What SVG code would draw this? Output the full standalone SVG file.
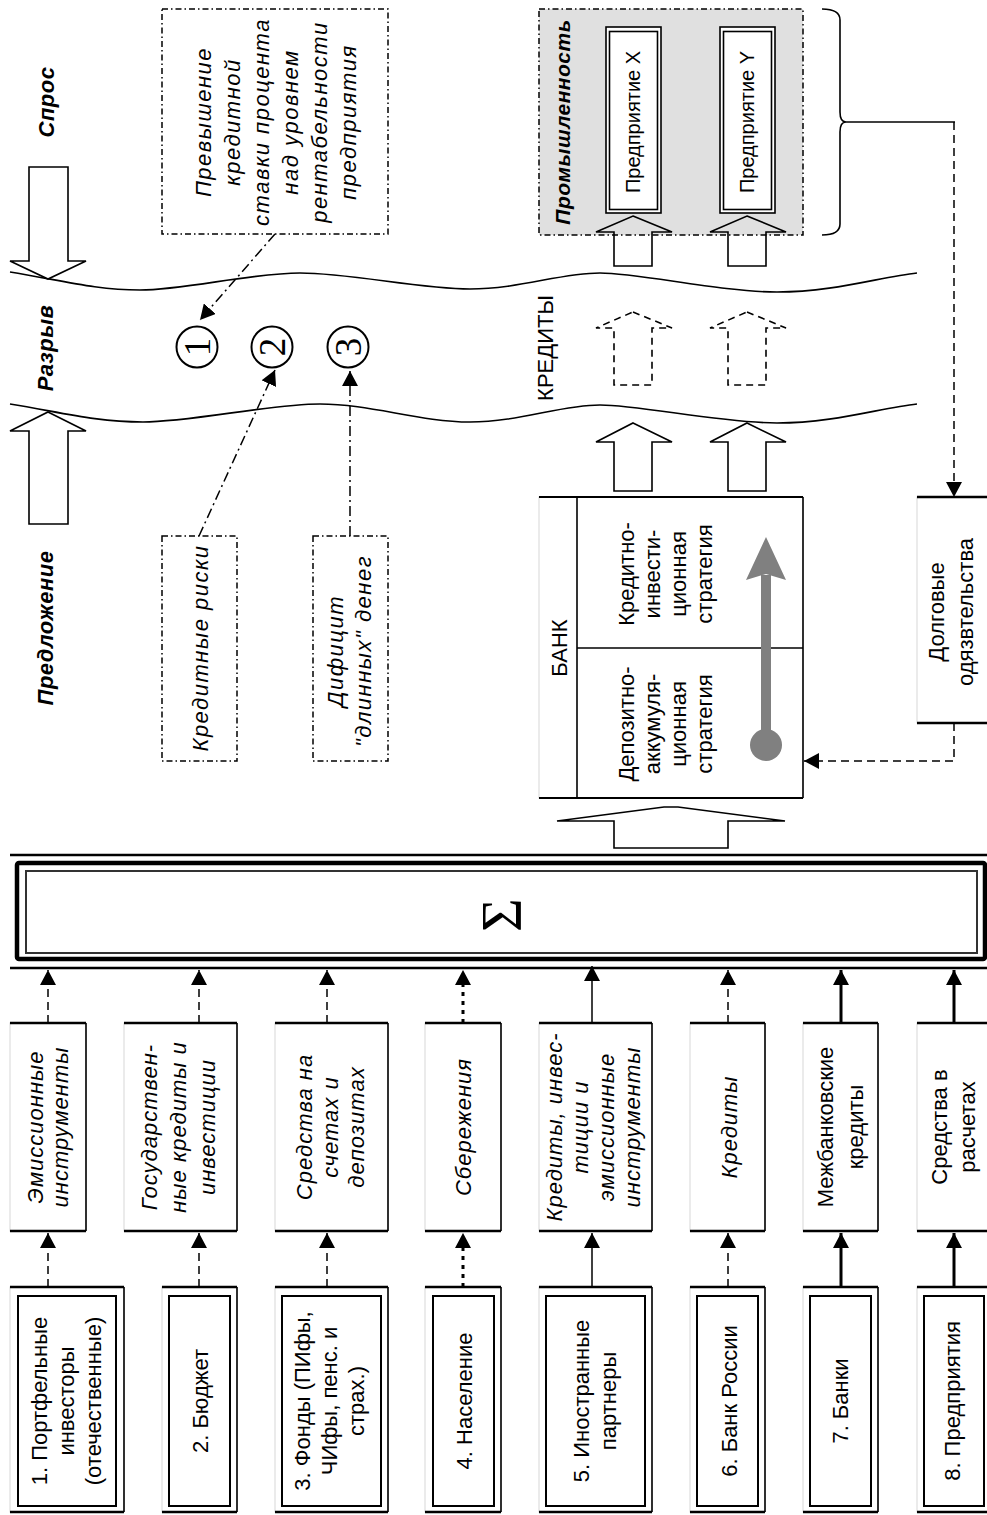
<svg xmlns="http://www.w3.org/2000/svg" width="987" height="1515" viewBox="0 0 987 1515">
<defs>
<style>
.t{font-family:"Liberation Sans",Arial,sans-serif;font-size:22px;fill:#000}
.i{font-style:italic;letter-spacing:1px}
.ci{font-style:italic;letter-spacing:1.5px}
.bi{font-style:italic;font-weight:bold;letter-spacing:0.5px}
.num{font-family:"Liberation Serif","Times New Roman",serif;font-size:37px;fill:#000}
.hol{fill:#fff;stroke:#000;stroke-width:1.6}
.holn{fill:none;stroke:#000;stroke-width:1.6}
.hold{fill:none;stroke:#000;stroke-width:1.6;stroke-dasharray:7 5}
.frame{fill:#fff;stroke:#d8d8d8;stroke-width:1}
.bar{stroke:#000;stroke-width:2.6}
.side{stroke:#000;stroke-width:1.6}
.inner{fill:none;stroke:#000;stroke-width:2}
.callout{fill:#fff;stroke:#000;stroke-width:1.5;stroke-dasharray:6 3 1.5 3}
.dash{fill:none;stroke:#000;stroke-width:1.5;stroke-dasharray:8 5}
.dot{fill:none;stroke:#000;stroke-width:3;stroke-dasharray:4 5}
.thin{fill:none;stroke:#000;stroke-width:1.5}
.thick{fill:none;stroke:#000;stroke-width:3}
.dd{fill:none;stroke:#000;stroke-width:1.5;stroke-dasharray:10 4 2 4}
.wave{fill:none;stroke:#000;stroke-width:1.6}
</style>
<marker id="ah" viewBox="0 0 15 16" refX="15" refY="8" markerWidth="15" markerHeight="16" orient="auto" markerUnits="userSpaceOnUse">
<path d="M0,0 L15,8 L0,16 Z" fill="#000" stroke="none"/>
</marker>
</defs>

<!-- Gap waves -->
<g id="waves">
<path class="wave" d="M10,272 C60,280 95,290 140,290 S250,273 300,273 S420,289 470,289 S560,273 600,273 S720,292 777,292 S880,277 917,273"/>
<path class="wave" d="M10,404 C60,412 95,422 143,422 S270,404 320,404 S420,422 470,422 S560,405 600,405 S720,423 777,423 S880,408 917,404"/>
</g>

<!-- Labels Спрос / Разрыв / Предложение -->
<g id="spros">
<polygon class="hol" points="29,167 68,167 68,261 86,261 48,279 10,261 29,261"/>
<text class="t bi" transform="translate(46,102) rotate(-90)" text-anchor="middle" y="8">Спрос</text>
</g>
<g id="razryv">
<text class="t bi" transform="translate(45,348) rotate(-90)" text-anchor="middle" y="8">Разрыв</text>
</g>
<g id="predlozhenie">
<polygon class="hol" points="48,412 86,431 68,431 68,524 29,524 29,431 10,431"/>
<text class="t bi" transform="translate(45,628) rotate(-90)" text-anchor="middle" y="8">Предложение</text>
</g>

<!-- Callouts -->
<g id="callout1">
<rect class="callout" x="162" y="9" width="226" height="225"/>
<text class="t ci" transform="translate(275,122) rotate(-90)" text-anchor="middle">
<tspan x="0" y="-64.5">Превышение</tspan><tspan x="0" dy="29">кредитной</tspan><tspan x="0" dy="29">ставки процента</tspan><tspan x="0" dy="29">над уровнем</tspan><tspan x="0" dy="29">рентабельности</tspan><tspan x="0" dy="29">предприятия</tspan>
</text>
</g>
<g id="callout2">
<rect class="callout" x="162" y="536" width="75" height="225"/>
<text class="t ci" transform="translate(200,648) rotate(-90)" text-anchor="middle" y="8">Кредитные риски</text>
</g>
<g id="callout3">
<rect class="callout" x="313" y="536" width="75" height="225"/>
<text class="t ci" transform="translate(349,651) rotate(-90)" text-anchor="middle"><tspan x="0" y="-6">Дифицит</tspan><tspan x="0" dy="28">"длинных" денег</tspan></text>
</g>

<!-- Circled numbers -->
<g id="n1"><circle cx="197" cy="347" r="20.5" fill="#fff" stroke="#000" stroke-width="2"/><text class="num" transform="translate(197,347) rotate(-90)" text-anchor="middle" y="12.5">1</text></g>
<g id="n2"><circle cx="272" cy="347" r="20.5" fill="#fff" stroke="#000" stroke-width="2"/><text class="num" transform="translate(272,347) rotate(-90)" text-anchor="middle" y="12.5">2</text></g>
<g id="n3"><circle cx="348" cy="347" r="20.5" fill="#fff" stroke="#000" stroke-width="2"/><text class="num" transform="translate(348,347) rotate(-90)" text-anchor="middle" y="12.5">3</text></g>

<!-- Industry -->
<g id="industry">
<rect x="539" y="9" width="264" height="226" fill="#e0e0e0" stroke="#000" stroke-width="1.5" stroke-dasharray="6 3 1.5 3"/>
<text class="t bi" style="font-size:21px" transform="translate(562,122) rotate(-90)" text-anchor="middle" y="8">Промышленность</text>
</g>
<g id="enterpriseX">
<rect x="606" y="27" width="55" height="186" fill="#fff" stroke="#000" stroke-width="1.6"/>
<rect x="609.5" y="31.5" width="48" height="178" fill="none" stroke="#000" stroke-width="1.6"/>
<text class="t" style="font-size:20px" transform="translate(633,122) rotate(-90)" text-anchor="middle" y="7">Предприятие X</text>
</g>
<g id="enterpriseY">
<rect x="720" y="27" width="55" height="186" fill="#fff" stroke="#000" stroke-width="1.6"/>
<rect x="723.5" y="31.5" width="48" height="178" fill="none" stroke="#000" stroke-width="1.6"/>
<text class="t" style="font-size:20px" transform="translate(747,122) rotate(-90)" text-anchor="middle" y="7">Предприятие Y</text>
</g>

<!-- Credit arrows -->
<g id="credit-arrows">
<polygon class="holn" points="633,216 672,232 652,232 652,266 614,266 614,232 596,232"/>
<polygon class="holn" points="747,216 786,232 766,232 766,266 728,266 728,232 710,232"/>
<polygon class="hold" points="633,312 672,328 652,328 652,385 614,385 614,328 596,328"/>
<polygon class="hold" points="747,312 786,328 766,328 766,385 728,385 728,328 710,328"/>
<polygon class="hol" points="633,423 672,442 652,442 652,491 614,491 614,442 596,442"/>
<polygon class="hol" points="747,423 786,442 766,442 766,491 728,491 728,442 710,442"/>
<polygon class="hol" points="614,848 614,821 557,821 664,807 678,807 785,821 728,821 728,848"/>
<text class="t" transform="translate(545,348) rotate(-90)" text-anchor="middle" y="8">КРЕДИТЫ</text>
</g>

<!-- Bank -->
<g id="bank">
<rect class="frame" x="539" y="497" width="264" height="301"/>
<line class="bar" x1="539" y1="497" x2="803" y2="497" style="stroke-width:2"/>
<line class="bar" x1="539" y1="798" x2="803" y2="798" style="stroke-width:2"/>
<line class="side" x1="803" y1="497" x2="803" y2="798"/>
<line class="side" x1="577" y1="497" x2="577" y2="798"/>
<line class="side" x1="577" y1="648" x2="803" y2="648"/>
<text class="t" transform="translate(559,648) rotate(-90)" text-anchor="middle" y="8">БАНК</text>
<text class="t" transform="translate(665,574) rotate(-90)" text-anchor="middle"><tspan x="0" y="-31">Кредитно-</tspan><tspan x="0" dy="26">инвести-</tspan><tspan x="0" dy="26">ционная</tspan><tspan x="0" dy="26">стратегия</tspan></text>
<text class="t" transform="translate(665,724) rotate(-90)" text-anchor="middle"><tspan x="0" y="-31">Депозитно-</tspan><tspan x="0" dy="26">аккумуля-</tspan><tspan x="0" dy="26">ционная</tspan><tspan x="0" dy="26">стратегия</tspan></text>
<line x1="766" y1="745" x2="766" y2="575" stroke="#808080" stroke-width="10"/>
<polygon points="766,537 786,580 766,574 746,580" fill="#808080"/>
<circle cx="766" cy="745" r="16" fill="#808080"/>
</g>

<!-- Debt -->
<g id="debt">
<rect class="frame" x="917" y="497" width="75" height="226"/>
<line class="bar" x1="917" y1="497" x2="987" y2="497"/>
<line class="bar" x1="917" y1="723" x2="987" y2="723"/>
<text class="t" transform="translate(950,612) rotate(-90)" text-anchor="middle"><tspan x="0" y="-6.5">Долговые</tspan><tspan x="0" dy="29">одязвтельства</tspan></text>
</g>

<!-- Sigma -->
<g id="sigma">
<line class="bar" x1="10" y1="855" x2="987" y2="855"/>
<line class="bar" x1="10" y1="968" x2="987" y2="968"/>
<rect x="17" y="863" width="968" height="96" rx="2" fill="#fff" stroke="#000" stroke-width="4.5"/>
<rect x="26" y="871" width="951" height="82" fill="none" stroke="#333" stroke-width="2"/>
<text transform="translate(521,915) rotate(-90)" text-anchor="middle" style="font-family:'Liberation Serif','Times New Roman',serif;font-size:58px">Σ</text>
</g>

<!-- Middle row -->
<g id="mA">
<rect class="frame" x="10" y="1023" width="76" height="208"/>
<line class="bar" x1="10" y1="1023" x2="86" y2="1023"/><line class="bar" x1="10" y1="1231" x2="86" y2="1231"/><line class="side" x1="86" y1="1023" x2="86" y2="1231"/>
<text class="t i" transform="translate(47,1127) rotate(-90)" text-anchor="middle"><tspan x="0" y="-4.5">Эмиссионные</tspan><tspan x="0" dy="25">инструменты</tspan></text>
</g>
<g id="mB">
<rect class="frame" x="124" y="1023" width="113" height="208"/>
<line class="bar" x1="124" y1="1023" x2="237" y2="1023"/><line class="bar" x1="124" y1="1231" x2="237" y2="1231"/><line class="side" x1="237" y1="1023" x2="237" y2="1231"/>
<text class="t i" transform="translate(178,1127) rotate(-90)" text-anchor="middle"><tspan x="0" y="-21">Государствен-</tspan><tspan x="0" dy="29">ные кредиты и</tspan><tspan x="0" dy="29">инвестиции</tspan></text>
</g>
<g id="mC">
<rect class="frame" x="275" y="1023" width="113" height="208"/>
<line class="bar" x1="275" y1="1023" x2="388" y2="1023"/><line class="bar" x1="275" y1="1231" x2="388" y2="1231"/><line class="side" x1="388" y1="1023" x2="388" y2="1231"/>
<text class="t i" transform="translate(330,1127) rotate(-90)" text-anchor="middle"><tspan x="0" y="-18">Средства на</tspan><tspan x="0" dy="26">счетах и</tspan><tspan x="0" dy="26">депозитах</tspan></text>
</g>
<g id="mD">
<rect class="frame" x="425" y="1023" width="76" height="208"/>
<line class="bar" x1="425" y1="1023" x2="501" y2="1023"/><line class="bar" x1="425" y1="1231" x2="501" y2="1231"/><line class="side" x1="501" y1="1023" x2="501" y2="1231"/>
<text class="t i" transform="translate(463,1127) rotate(-90)" text-anchor="middle" y="8">Сбережения</text>
</g>
<g id="mE">
<rect class="frame" x="539" y="1023" width="113" height="208"/>
<line class="bar" x1="539" y1="1023" x2="652" y2="1023"/><line class="bar" x1="539" y1="1231" x2="652" y2="1231"/><line class="side" x1="652" y1="1023" x2="652" y2="1231"/>
<text class="t i" transform="translate(593,1127) rotate(-90)" text-anchor="middle"><tspan x="0" y="-31">Кредиты, инвес-</tspan><tspan x="0" dy="26">тиции и</tspan><tspan x="0" dy="26">эмиссионные</tspan><tspan x="0" dy="26">инструменты</tspan></text>
</g>
<g id="mF">
<rect class="frame" x="690" y="1023" width="75" height="208"/>
<line class="bar" x1="690" y1="1023" x2="765" y2="1023"/><line class="bar" x1="690" y1="1231" x2="765" y2="1231"/><line class="side" x1="765" y1="1023" x2="765" y2="1231"/>
<text class="t i" transform="translate(729,1127) rotate(-90)" text-anchor="middle" y="8">Кредиты</text>
</g>
<g id="mG">
<rect class="frame" x="803" y="1023" width="75" height="208"/>
<line class="bar" x1="803" y1="1023" x2="878" y2="1023"/><line class="bar" x1="803" y1="1231" x2="878" y2="1231"/><line class="side" x1="878" y1="1023" x2="878" y2="1231"/>
<text class="t" transform="translate(840,1127) rotate(-90)" text-anchor="middle"><tspan x="0" y="-7">Межбанковские</tspan><tspan x="0" dy="30">кредиты</tspan></text>
</g>
<g id="mH">
<rect class="frame" x="917" y="1023" width="75" height="208"/>
<line class="bar" x1="917" y1="1023" x2="987" y2="1023"/><line class="bar" x1="917" y1="1231" x2="987" y2="1231"/>
<text class="t" transform="translate(953,1127) rotate(-90)" text-anchor="middle"><tspan x="0" y="-6">Средства в</tspan><tspan x="0" dy="28">расчетах</tspan></text>
</g>

<!-- Bottom row sources -->
<g id="s1">
<rect class="frame" x="10" y="1287" width="114" height="225"/>
<line class="bar" x1="10" y1="1287" x2="124" y2="1287"/><line class="bar" x1="10" y1="1512" x2="124" y2="1512"/><line class="side" x1="124" y1="1287" x2="124" y2="1512"/>
<rect class="inner" x="18" y="1296" width="98" height="210"/>
<text class="t" transform="translate(66,1401) rotate(-90)" text-anchor="middle"><tspan x="0" y="-19">1. Портфельные</tspan><tspan x="0" dy="27">инвесторы</tspan><tspan x="0" dy="27">(отечественные)</tspan></text>
</g>
<g id="s2">
<rect class="frame" x="162" y="1287" width="75" height="225"/>
<line class="bar" x1="162" y1="1287" x2="237" y2="1287"/><line class="bar" x1="162" y1="1512" x2="237" y2="1512"/><line class="side" x1="237" y1="1287" x2="237" y2="1512"/>
<rect class="inner" x="169" y="1296" width="61" height="210"/>
<text class="t" transform="translate(200,1401) rotate(-90)" text-anchor="middle" y="8">2. Бюджет</text>
</g>
<g id="s3">
<rect class="frame" x="275" y="1287" width="113" height="225"/>
<line class="bar" x1="275" y1="1287" x2="388" y2="1287"/><line class="bar" x1="275" y1="1512" x2="388" y2="1512"/><line class="side" x1="388" y1="1287" x2="388" y2="1512"/>
<rect class="inner" x="282" y="1296" width="99" height="210"/>
<text class="t" transform="translate(329,1401) rotate(-90)" text-anchor="middle"><tspan x="0" y="-19">3. Фонды (ПИфы,</tspan><tspan x="0" dy="27">ЧИфы, пенс. и</tspan><tspan x="0" dy="27">страх.)</tspan></text>
</g>
<g id="s4">
<rect class="frame" x="425" y="1287" width="76" height="225"/>
<line class="bar" x1="425" y1="1287" x2="501" y2="1287"/><line class="bar" x1="425" y1="1512" x2="501" y2="1512"/><line class="side" x1="501" y1="1287" x2="501" y2="1512"/>
<rect class="inner" x="433" y="1296" width="61" height="210"/>
<text class="t" transform="translate(464,1401) rotate(-90)" text-anchor="middle" y="8">4. Население</text>
</g>
<g id="s5">
<rect class="frame" x="539" y="1287" width="113" height="225"/>
<line class="bar" x1="539" y1="1287" x2="652" y2="1287"/><line class="bar" x1="539" y1="1512" x2="652" y2="1512"/><line class="side" x1="652" y1="1287" x2="652" y2="1512"/>
<rect class="inner" x="546" y="1296" width="99" height="210"/>
<text class="t" transform="translate(594,1401) rotate(-90)" text-anchor="middle"><tspan x="0" y="-5.5">5. Иностранные</tspan><tspan x="0" dy="27">партнеры</tspan></text>
</g>
<g id="s6">
<rect class="frame" x="690" y="1287" width="75" height="225"/>
<line class="bar" x1="690" y1="1287" x2="765" y2="1287"/><line class="bar" x1="690" y1="1512" x2="765" y2="1512"/><line class="side" x1="765" y1="1287" x2="765" y2="1512"/>
<rect class="inner" x="697" y="1296" width="61" height="210"/>
<text class="t" transform="translate(729,1401) rotate(-90)" text-anchor="middle" y="8">6. Банк России</text>
</g>
<g id="s7">
<rect class="frame" x="803" y="1287" width="75" height="225"/>
<line class="bar" x1="803" y1="1287" x2="878" y2="1287"/><line class="bar" x1="803" y1="1512" x2="878" y2="1512"/><line class="side" x1="878" y1="1287" x2="878" y2="1512"/>
<rect class="inner" x="810" y="1296" width="61" height="210"/>
<text class="t" transform="translate(840,1401) rotate(-90)" text-anchor="middle" y="8">7. Банки</text>
</g>
<g id="s8">
<rect class="frame" x="917" y="1287" width="75" height="225"/>
<line class="bar" x1="917" y1="1287" x2="987" y2="1287"/><line class="bar" x1="917" y1="1512" x2="987" y2="1512"/>
<rect class="inner" x="924" y="1296" width="60" height="210"/>
<text class="t" transform="translate(952,1401) rotate(-90)" text-anchor="middle" y="8">8. Предприятия</text>
</g>

<!-- Connectors -->
<g id="connectors">
<line class="dash" x1="48" y1="1287" x2="48" y2="1233" marker-end="url(#ah)"/>
<line class="dash" x1="199" y1="1287" x2="199" y2="1233" marker-end="url(#ah)"/>
<line class="dash" x1="327" y1="1287" x2="327" y2="1233" marker-end="url(#ah)"/>
<line class="dot" x1="463" y1="1287" x2="463" y2="1233" marker-end="url(#ah)"/>
<line class="thin" x1="592" y1="1287" x2="592" y2="1233" marker-end="url(#ah)"/>
<line class="dash" x1="728" y1="1287" x2="728" y2="1233" marker-end="url(#ah)"/>
<line class="thick" x1="841" y1="1287" x2="841" y2="1233" marker-end="url(#ah)"/>
<line class="thick" x1="954" y1="1287" x2="954" y2="1233" marker-end="url(#ah)"/>

<line class="dash" x1="48" y1="1023" x2="48" y2="970" marker-end="url(#ah)"/>
<line class="dash" x1="199" y1="1023" x2="199" y2="970" marker-end="url(#ah)"/>
<line class="dash" x1="327" y1="1023" x2="327" y2="970" marker-end="url(#ah)"/>
<line class="dot" x1="463" y1="1023" x2="463" y2="970" marker-end="url(#ah)"/>
<line class="thin" x1="592" y1="1023" x2="592" y2="966" marker-end="url(#ah)"/>
<line class="dash" x1="728" y1="1023" x2="728" y2="970" marker-end="url(#ah)"/>
<line class="thick" x1="841" y1="1023" x2="841" y2="970" marker-end="url(#ah)"/>
<line class="thick" x1="954" y1="1023" x2="954" y2="970" marker-end="url(#ah)"/>

<line class="dd" x1="275" y1="234" x2="200" y2="320" marker-end="url(#ah)"/>
<line class="dd" x1="199" y1="536" x2="275" y2="370" marker-end="url(#ah)"/>
<line class="dd" x1="350" y1="536" x2="350" y2="371" marker-end="url(#ah)"/>

<path d="M822,9 Q840,9 840,20 L840,112 Q840,122 846,122 Q840,122 840,132 L840,224 Q840,235 822,235" fill="none" stroke="#000" stroke-width="1.6"/>
<line class="thin" x1="846" y1="122" x2="955" y2="122"/>
<line class="dash" x1="954" y1="122" x2="954" y2="497" marker-end="url(#ah)"/>
<polyline class="dash" points="954,723 954,761 804,761" marker-end="url(#ah)"/>
</g>
</svg>
